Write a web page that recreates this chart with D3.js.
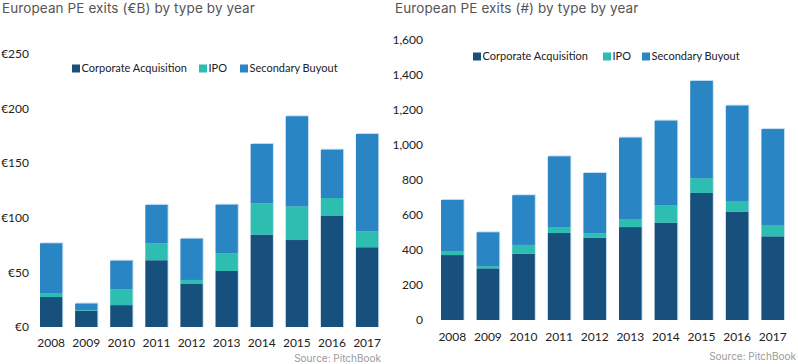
<!DOCTYPE html>
<html><head><meta charset="utf-8">
<script src="https://cdn.jsdelivr.net/npm/d3@7"></script>
<style>html,body{margin:0;padding:0;background:#fff;}svg{display:block;}</style>
</head><body>
<svg id="c" width="798" height="364"></svg>
<script>
const years = ["2008","2009","2010","2011","2012","2013","2014","2015","2016","2017"];
const seriesNames = ["Corporate Acquisition","IPO","Secondary Buyout"];
const colors = ["#17507c","#2dbdb1","#2a85c4"];

// Value (€B)
const valueCorp = [27.4, 15, 20, 61, 39.3, 51.2, 84.4, 79.5, 101.5, 72.9];
const valueIPO  = [3.6, 0.6, 14.6, 15.6, 3.7, 16.2, 28.6, 30.8, 16.4, 14.6];
const valueSB   = [45.5, 5.8, 26, 35, 37.7, 44.4, 54.3, 82.3, 44.2, 88.9];
const valueTicks = [0, 50, 100, 150, 200, 250];

// Count (#)
const countCorp = [371, 295, 379, 497, 470, 531, 556, 726, 619, 478];
const countIPO  = [23, 13, 50, 34, 25, 46, 99, 84, 61, 65];
const countSB   = [292, 193, 284, 404, 345, 465, 484, 556, 545, 548];
const countTicks = [0, 200, 400, 600, 800, 1000, 1200, 1400, 1600];

const svg = d3.select("#c");
const tickFont = "Lato, 'Liberation Sans', sans-serif";
const titleFont = "Inter, 'Noto Sans', sans-serif";

function drawChart(cfg) {
  const g = svg.append("g");
  const rows = years.map((y, i) => ({year: y, c: cfg.corp[i], i: cfg.ipo[i], s: cfg.sb[i]}));
  const stack = d3.stack().keys(["c","i","s"])(rows);
  const x = d3.scaleBand().domain(years).range(cfg.xRange).paddingInner(0.365).paddingOuter(0.1825);
  const y = d3.scaleLinear().domain([0, cfg.ticks[cfg.ticks.length-1]]).range(cfg.yRange);

  // title
  g.append("text").attr("x", cfg.titleX).attr("y", 12.5).attr("font-family", titleFont)
    .attr("font-size", 13.5).attr("letter-spacing", 0.1).attr("fill", "#555").text(cfg.title);

  // y axis labels
  const ya = d3.axisLeft(y).tickValues(cfg.ticks).tickFormat(cfg.fmt).tickSize(0).tickPadding(0);
  const yg = g.append("g").attr("transform", `translate(${cfg.yLabelX},0)`).call(ya);
  yg.select(".domain").remove();
  yg.selectAll("text").attr("font-family", tickFont).attr("font-size", 12).attr("fill", "#222");

  // x axis labels
  const xa = d3.axisBottom(x).tickSize(0).tickPadding(0);
  const xg = g.append("g").attr("transform", `translate(0,${cfg.xLabelY})`).call(xa);
  xg.select(".domain").remove();
  xg.selectAll("text").attr("font-family", tickFont).attr("font-size", 12).attr("fill", "#222").attr("dy", "0.35em");

  // bar shadow (light edge)
  g.append("g").selectAll("rect").data(rows).join("rect")
    .attr("x", d => x(d.year) + 1)
    .attr("y", d => y(d.c + d.i + d.s) - 1)
    .attr("width", x.bandwidth())
    .attr("height", d => y(0) - y(d.c + d.i + d.s) + 1)
    .attr("fill", "#c4def1");

  // stacks
  g.append("g").selectAll("g").data(stack).join("g")
    .attr("fill", (d, k) => colors[k])
    .selectAll("rect").data(d => d).join("rect")
    .attr("x", d => x(d.data.year))
    .attr("y", d => y(d[1]))
    .attr("width", x.bandwidth())
    .attr("height", d => y(d[0]) - y(d[1]));

  // legend
  const lg = g.append("g");
  cfg.legendX.forEach((lx, k) => {
    lg.append("rect").attr("x", lx).attr("y", cfg.legendY - 4).attr("width", 8).attr("height", 8).attr("fill", colors[k]);
    lg.append("text").attr("x", lx + 9.5).attr("y", cfg.legendY).attr("dy", "0.35em")
      .attr("font-family", tickFont).attr("font-size", 11).attr("fill", "#222").text(seriesNames[k]);
  });

  // source
  g.append("text").attr("x", cfg.sourceX).attr("y", cfg.sourceY).attr("dy", "0.35em")
    .attr("text-anchor", "end").attr("font-family", titleFont).attr("font-size", 10)
    .attr("fill", "#9a9a9a").text("Source: PitchBook");
}

drawChart({
  title: "European PE exits (\u20acB) by type by year", titleX: 2,
  corp: valueCorp, ipo: valueIPO, sb: valueSB, ticks: valueTicks,
  fmt: d => "\u20ac" + d,
  xRange: [33.6, 384.6], yRange: [327, 53.5],
  yLabelX: 29, xLabelY: 343,
  legendX: [72, 199, 240], legendY: 68.5,
  sourceX: 381, sourceY: 358
});

drawChart({
  title: "European PE exits (#) by type by year", titleX: 395,
  corp: countCorp, ipo: countIPO, sb: countSB, ticks: countTicks,
  fmt: d3.format(","),
  xRange: [434.5, 790.5], yRange: [320, 40],
  yLabelX: 423, xLabelY: 337,
  legendX: [473, 603, 642], legendY: 56.5,
  sourceX: 796, sourceY: 356
});
</script>
</body></html>
